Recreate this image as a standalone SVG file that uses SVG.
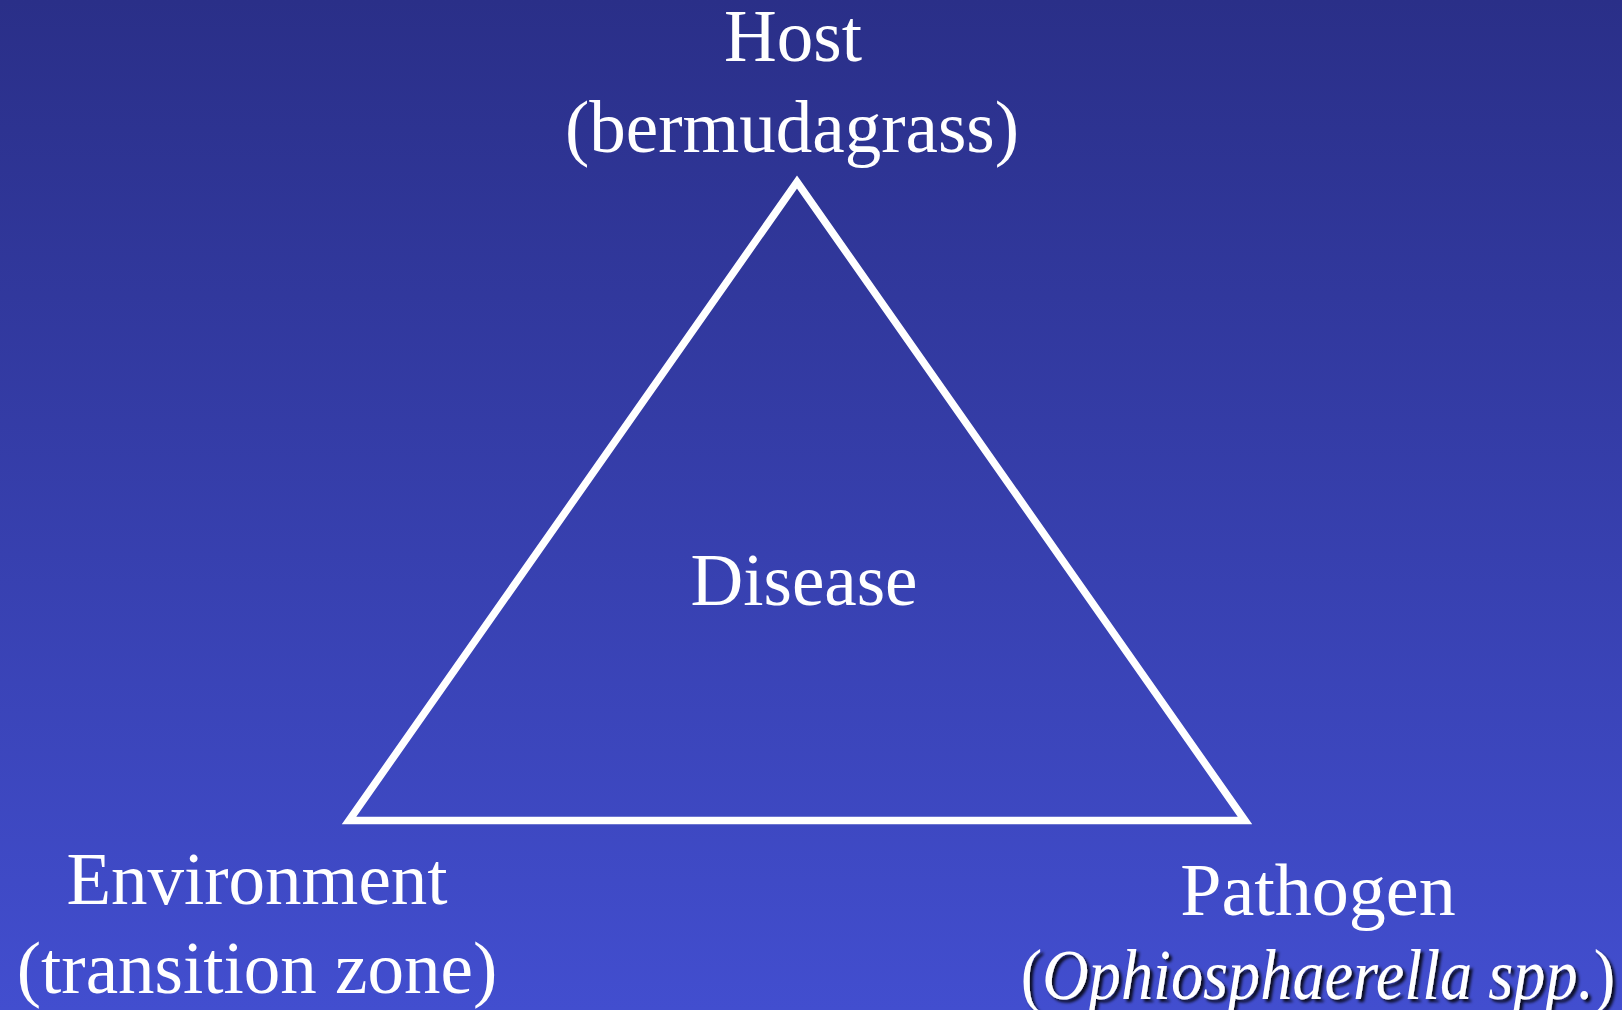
<svg xmlns="http://www.w3.org/2000/svg" width="1622" height="1010" viewBox="0 0 1622 1010">
<defs>
<linearGradient id="bg" x1="0" y1="0" x2="0" y2="1">
<stop offset="0" stop-color="#2A2F88"/>
<stop offset="1" stop-color="#424ECF"/>
</linearGradient>
<filter id="sh" x="-5%" y="-20%" width="110%" height="140%">
<feDropShadow dx="3" dy="3" stdDeviation="1.5" flood-color="#000" flood-opacity="0.85"/>
</filter>
<style>
.t{font-family:"Liberation Serif","Times New Roman",serif;font-size:73px;fill:#fff;text-anchor:middle}
</style>
</defs>
<rect width="1622" height="1010" fill="url(#bg)"/>
<g id="connectors">
<polygon points="797,182 1245,820.5 349,820.5" fill="none" stroke="#fff" stroke-width="7.5" stroke-linejoin="miter"/>
</g>
<g id="host">
<text class="t" x="793" y="61">Host</text>
<text class="t" x="792" y="152">(bermudagrass)</text>
</g>
<g id="disease">
<text class="t" x="804" y="605">Disease</text>
</g>
<g id="environment">
<text class="t" x="257" y="904">Environment</text>
<text class="t" x="257" y="993">(transition zone)</text>
</g>
<g id="pathogen">
<text class="t" x="1318" y="915" style="font-size:74px">Pathogen</text>
<g filter="url(#sh)">
<text class="t" transform="translate(1318,999) scale(0.906,1)" x="0" y="0" style="font-size:71px">(<tspan font-style="italic">Ophiosphaerella spp.</tspan>)</text>
</g>
</g>
</svg>
